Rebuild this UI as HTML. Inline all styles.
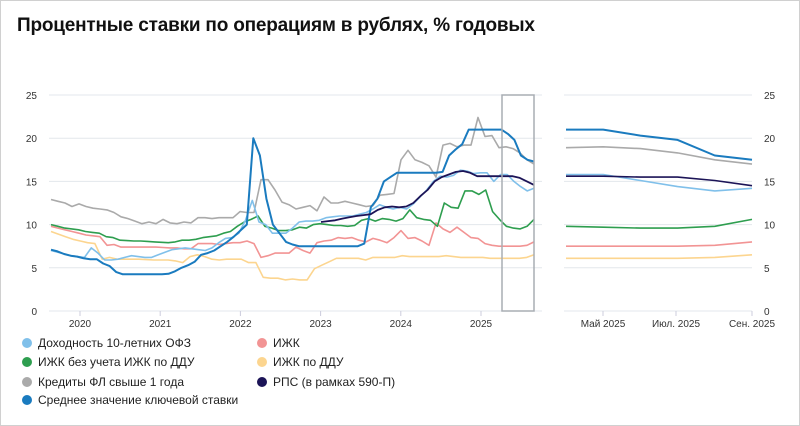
<!DOCTYPE html>
<html><head><meta charset="utf-8"><style>
body{margin:0;background:#fff;}
#w{position:relative;width:798px;height:424px;border:1px solid #d0d0d0;overflow:hidden;font-family:"Liberation Sans",sans-serif;}
h1{position:absolute;left:16px;top:14px;margin:0;font-size:19px;font-weight:bold;color:#111;letter-spacing:-0.2px}
.lg{position:absolute;font-size:12px;color:#222;white-space:nowrap}
.lg i{display:inline-block;width:10px;height:10px;border-radius:50%;vertical-align:-1px;margin-right:6px}
</style></head><body><div id="w">
<h1>Процентные ставки по операциям в рублях, % годовых</h1>
<svg id="s" width="800" height="426" style="position:absolute;left:0;top:0" font-family="Liberation Sans, sans-serif" font-size="10" fill="#333"></svg>
<div class="lg" style="left:21px;top:335px"><i style="background:#80c0ea"></i>Доходность 10-летних ОФЗ</div>
<div class="lg" style="left:21px;top:354px"><i style="background:#2e9e4f"></i>ИЖК без учета ИЖК по ДДУ</div>
<div class="lg" style="left:21px;top:374px"><i style="background:#aaaaaa"></i>Кредиты ФЛ свыше 1 года</div>
<div class="lg" style="left:21px;top:392px"><i style="background:#1a7bbf"></i>Среднее значение ключевой ставки</div>
<div class="lg" style="left:256px;top:335px"><i style="background:#f29494"></i>ИЖК</div>
<div class="lg" style="left:256px;top:354px"><i style="background:#fcd58f"></i>ИЖК по ДДУ</div>
<div class="lg" style="left:256px;top:374px"><i style="background:#1c1457"></i>РПС (в рамках 590-П)</div>
</div>
<script>
var s=document.getElementById('s'),h='';
function Y(v){return 310-v*8.64}
for(var v=0;v<=25;v+=5){var y=Y(v);
h+='<line x1="48" x2="541" y1="'+y+'" y2="'+y+'" stroke="#e3e7ec"/>';
h+='<line x1="563" x2="751" y1="'+y+'" y2="'+y+'" stroke="#e3e7ec"/>';
h+='<text x="36" y="'+(y+4)+'" text-anchor="end">'+v+'</text>';
h+='<text x="763" y="'+(y+4)+'">'+v+'</text>';}
var yrs=[2020,2021,2022,2023,2024,2025];
yrs.forEach(function(yr,i){var x=79+i*80.2;h+='<line x1="'+x+'" x2="'+x+'" y1="310" y2="315" stroke="#ccd"/><text x="'+x+'" y="326" text-anchor="middle">'+yr+'</text>';});
[[602,'Май 2025'],[675,'Июл. 2025'],[751,'Сен. 2025']].forEach(function(a){h+='<line x1="'+a[0]+'" x2="'+a[0]+'" y1="310" y2="315" stroke="#ccd"/><text x="'+a[0]+'" y="326" text-anchor="middle">'+a[1]+'</text>';});
var D={
key:[7.1,6.9,6.6,6.4,6.3,6.1,6.0,6.0,5.5,5.2,4.5,4.25,4.25,4.25,4.25,4.25,4.25,4.25,4.3,4.6,5.0,5.3,5.7,6.5,6.7,7.0,7.5,8.0,8.6,9.3,10,20,18,13,10,9,8,7.7,7.5,7.5,7.5,7.5,7.5,7.5,7.5,7.5,7.5,7.5,7.8,12,13,15,15.5,16,16,16,16,16,16,16,16.1,18,18.7,19.3,21,21,21,21,21,21,20.5,19.8,18,17.5,17.3],
ofz:[7.0,6.8,6.6,6.4,6.3,6.2,7.3,6.7,5.9,5.9,6.0,6.2,6.4,6.3,6.2,6.2,6.5,6.8,7.1,7.2,7.3,7.2,7.1,7.0,7.3,7.9,8.4,8.5,9.0,10.5,12.8,10.3,10,9,9,9.0,9.6,10.3,10.4,10.4,10.5,10.8,10.9,11,11,11,11.2,11.4,11.8,12.3,12,11.8,12,11.8,12.4,13.2,14,15,15.6,15.5,15.7,16.3,16.2,15.9,16,16,15.0,15.8,15.8,15.0,14.4,13.9,14.2],
gray:[12.9,12.7,12.5,12.1,12.4,12.1,11.9,11.8,11.7,11.4,10.9,10.7,10.4,10.1,10.3,10.1,10.6,10.2,10.1,10.3,10.2,10.8,10.8,10.7,10.8,10.8,10.8,11.5,11.4,11.4,15.2,15.2,14,12.6,12.3,11.8,12.0,12.2,11.6,13.2,12.5,12.5,12.7,12.5,12.3,12.1,12.2,13.4,13.5,13.6,17.5,18.6,17.5,17.2,16.8,15.5,19.2,19.4,19,19.2,19.2,22.4,20.2,20.3,18.9,19.0,18.8,18.3,17.5,17.0],
green:[10,9.8,9.6,9.5,9.4,9.2,9.1,9.0,8.6,8.5,8.2,8.15,8.1,8.1,8.05,8.0,7.95,7.9,8.0,8.2,8.2,8.3,8.5,8.6,8.7,9.0,9.2,9.8,10.3,10.6,11,9.8,9.6,9.3,9.3,9.4,9.7,9.6,10,10.1,10.0,9.9,9.9,9.8,9.9,10.5,10.7,10.4,10.7,10.6,10.4,10.7,11.7,10.8,10.6,10.5,9.8,12.5,12,11.9,13.9,13.9,13.5,14,11.5,10.6,9.8,9.6,9.5,9.8,10.6],
pink:[9.8,9.6,9.4,9.2,9.0,8.8,8.7,8.6,7.6,7.7,7.4,7.4,7.4,7.4,7.4,7.4,7.35,7.3,7.3,7.2,7.2,7.8,7.8,7.8,7.7,7.8,7.9,7.9,8.1,7.8,6.2,6.4,6.7,6.7,6.7,7.4,7.0,6.7,7.9,8.1,8.2,8.5,8.4,8.5,8.2,8.0,8.4,8.2,7.9,8.5,9.3,8.4,8.5,8.1,7.6,10.2,9.5,9.1,9.7,9.1,8.5,8.4,7.8,7.6,7.5,7.5,7.5,7.5,7.6,8.0],
yel:[9.2,8.9,8.6,8.3,8.1,7.9,7.8,6.0,6.2,6.0,6.0,6.0,6.0,5.95,5.9,5.9,5.9,5.8,5.6,6.3,6.5,6.3,6.0,5.9,6.0,6.0,6.0,5.6,5.6,3.9,3.8,3.8,3.6,3.7,3.6,3.6,4.9,5.3,5.7,6.1,6.1,6.1,6.1,5.9,6.2,6.2,6.2,6.2,6.4,6.3,6.3,6.3,6.3,6.3,6.4,6.3,6.2,6.2,6.2,6.2,6.1,6.1,6.1,6.1,6.1,6.2,6.5]
};
var C={gray:'#aaaaaa',yel:'#fcd58f',pink:'#f29494',green:'#2e9e4f',ofz:'#80c0ea',key:'#1a7bbf',rps:'#1c1457'};
function line(pts,c,w){return '<polyline fill="none" stroke="'+c+'" stroke-width="'+w+'" stroke-linejoin="round" points="'+pts.join(' ')+'"/>';}
function ser(a,x0,x1){var p=[],n=a.length-1;a.forEach(function(v,i){p.push((x0+(x1-x0)*i/n).toFixed(1)+','+Y(v).toFixed(1))});return p;}
['yel','pink','gray','green','ofz','key'].forEach(function(k){h+=line(ser(D[k],50,533),C[k],k=='key'?2:1.6);});
var rps=[10.3,10.4,10.5,10.7,10.85,11,11.1,11.2,11.7,12,12.1,12,12.1,12.5,13.3,14,15,15.5,15.8,16.1,16.2,16,15.6,15.6,15.6,15.6,15.6,15.6,15.4,15,14.6];
h+=line(ser(rps,320,533),C.rps,1.8);
h+='<rect x="501" y="94" width="32" height="216" fill="none" stroke="#a8adb3" stroke-width="1.5"/>';
var R={yel:[6.1,6.1,6.1,6.1,6.2,6.5],pink:[7.5,7.5,7.5,7.5,7.6,8.0],green:[9.8,9.7,9.6,9.6,9.8,10.6],ofz:[15.8,15.8,15.1,14.4,13.9,14.2],gray:[18.9,19,18.8,18.3,17.5,17.0],key:[21,21,20.3,19.8,18,17.5],rps:[15.6,15.6,15.5,15.5,15.1,14.5]};
['yel','pink','green','ofz','gray','rps','key'].forEach(function(k){h+=line(ser(R[k],565,751),C[k],k=='key'?2:1.6);});
s.innerHTML=h;
</script></body></html>
